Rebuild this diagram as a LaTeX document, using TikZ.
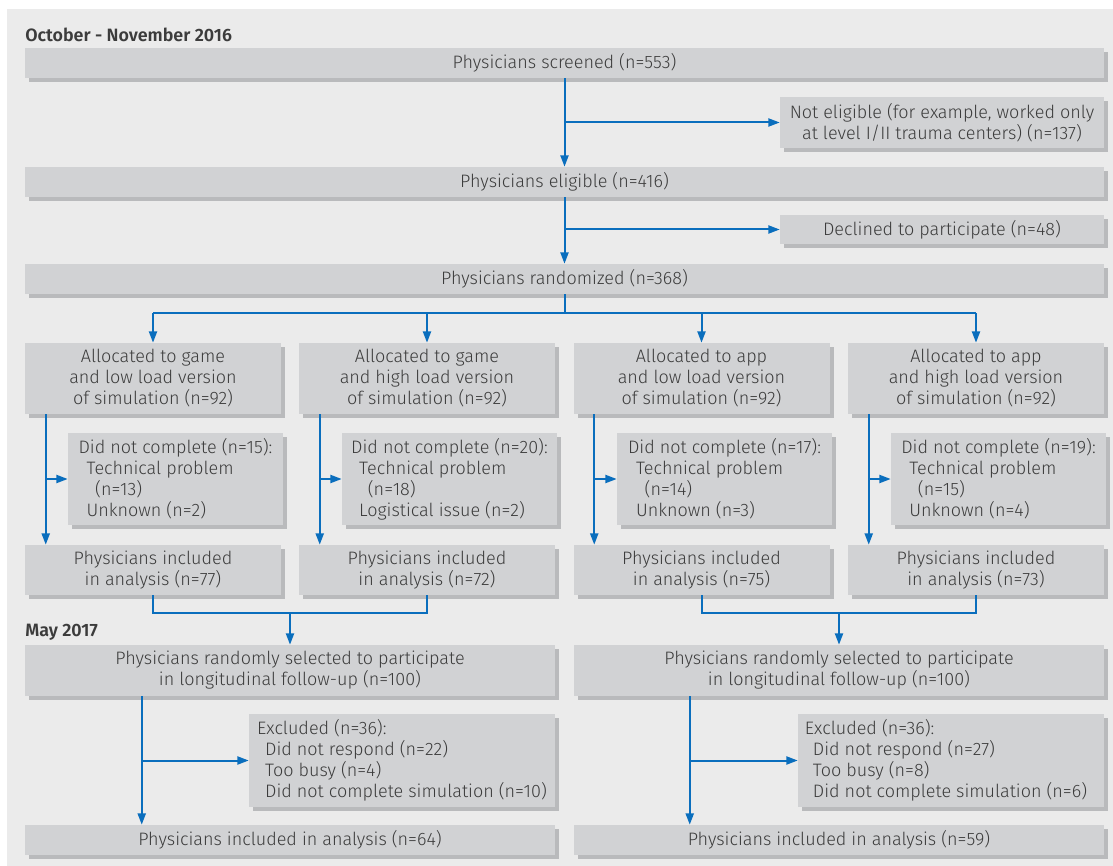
\documentclass[tikz,border=0pt]{standalone}
\usepackage{fontspec}
\setmainfont{Fira Sans}[UprightFont=* Light, BoldFont=* SemiBold]
\usepackage{tikz}
\usetikzlibrary{arrows.meta,shadows}
\definecolor{panel}{HTML}{EBEBEB}
\definecolor{boxgray}{HTML}{D1D2D4}
\definecolor{shadegray}{HTML}{B9BABC}
\definecolor{flow}{HTML}{0A6EBD}
\definecolor{ink}{HTML}{3C3C3C}

\begin{document}
\begin{tikzpicture}[x=0.75pt,y=-0.75pt,
  box/.style={fill=boxgray,text=ink,inner sep=0pt,align=center,
    font=\fontsize{13.5}{15.75}\selectfont,
    copy shadow={shadow xshift=3pt,shadow yshift=-3pt,fill=shadegray,draw=none}},
  wide/.style={box,minimum width=809.25pt,minimum height=22.5pt},
  arm/.style={box,minimum width=192pt,minimum height=53.25pt},
  incl/.style={box,minimum width=192pt,minimum height=37.5pt},
  half/.style={box,minimum width=397.5pt},
  side/.style={box,align=left,minimum width=161.25pt,minimum height=69pt},
  title/.style={anchor=west,inner sep=0pt,text=ink,font=\bfseries\fontsize{13.4}{15}\selectfont},
  link/.style={draw=flow,line width=1.5pt},
  arr/.style={link,-{Triangle[length=8.5pt,width=6pt]}}]
\fill[white] (0,0) rectangle (1113,866);
\fill[panel] (7,9) rectangle (1113,866);
\useasboundingbox (0,0) rectangle (1113,866);

\node[title] (oct) at (25,35) {October - November 2016};
\node[wide] (screened) at (564.5,63) {Physicians screened (n=553)};
\node[box,minimum width=243pt,minimum height=38.25pt] (noteligible) at (942,122.5)
  {Not eligible (for example, worked only\\at level I/II trauma centers) (n=137)};
\node[wide] (eligible) at (564.5,182) {Physicians eligible (n=416)};
\node[box,minimum width=243pt,minimum height=22pt] (declined) at (942,229.5) {Declined to participate (n=48)};
\node[wide] (randomized) at (564.5,279) {Physicians randomized (n=368)};

\node[arm] (a1) at (153,378.5) {Allocated to game\\and low load version\\of simulation (n=92)};
\node[arm] (a2) at (427,378.5) {Allocated to game\\and high load version\\of simulation (n=92)};
\node[arm] (a3) at (701.5,378.5) {Allocated to app\\and low load version\\of simulation (n=92)};
\node[arm] (a4) at (976,378.5) {Allocated to app\\and high load version\\of simulation (n=92)};

\node[side] (d1) at (175.5,479) {Did not complete (n=15):\\\hspace*{6pt}Technical problem\\\hspace*{12.5pt}(n=13)\\\hspace*{6pt}Unknown (n=2)};
\node[side] (d2) at (449.5,479) {Did not complete (n=20):\\\hspace*{6pt}Technical problem\\\hspace*{12.5pt}(n=18)\\\hspace*{6pt}Logistical issue (n=2)};
\node[side] (d3) at (724.5,479) {Did not complete (n=17):\\\hspace*{6pt}Technical problem\\\hspace*{12.5pt}(n=14)\\\hspace*{6pt}Unknown (n=3)};
\node[side] (d4) at (998.5,479) {Did not complete (n=19):\\\hspace*{6pt}Technical problem\\\hspace*{12.5pt}(n=15)\\\hspace*{6pt}Unknown (n=4)};

\node[incl] (i1) at (153,570) {Physicians included\\in analysis (n=77)};
\node[incl] (i2) at (427,570) {Physicians included\\in analysis (n=72)};
\node[incl] (i3) at (701.5,570) {Physicians included\\in analysis (n=75)};
\node[incl] (i4) at (976,570) {Physicians included\\in analysis (n=73)};

\node[title] (may) at (25,632) {May 2017};
\node[half,minimum height=38.25pt] (s1) at (290,670.5) {Physicians randomly selected to participate\\in longitudinal follow-up (n=100)};
\node[half,minimum height=38.25pt] (s2) at (839,670.5) {Physicians randomly selected to participate\\in longitudinal follow-up (n=100)};
\node[side,minimum width=229.5pt,minimum height=69.75pt] (e1) at (402,760.5) {Excluded (n=36):\\\hspace*{6pt}Did not respond (n=22)\\\hspace*{6pt}Too busy (n=4)\\\hspace*{6pt}Did not complete simulation (n=10)};
\node[side,minimum width=229.5pt,minimum height=69.75pt] (e2) at (951,760.5) {Excluded (n=36):\\\hspace*{6pt}Did not respond (n=27)\\\hspace*{6pt}Too busy (n=8)\\\hspace*{6pt}Did not complete simulation (n=6)\hphantom{0}};
\node[half,minimum height=22.5pt] (f1) at (290,840) {Physicians included in analysis (n=64)};
\node[half,minimum height=22.5pt] (f2) at (839,840) {Physicians included in analysis (n=59)};

\path
(screened) edge[arr] (eligible)
(eligible) edge[arr] (randomized)
(noteligible.west -| screened.south) edge[arr] (noteligible.west)
(declined.west -| eligible.south) edge[arr] (declined.west);

\coordinate (split) at ([yshift=-14.25pt]randomized.south);
\draw[link] (randomized) -- (split);
\draw[link] (a1.north |- split) -- (a4.north |- split);
\foreach \n in {1,2,3,4} {
  \draw[arr] (a\n.north |- split) -- (a\n);
  \coordinate (c\n) at ([xshift=15.75pt]a\n.south west);
  \draw[arr] (c\n) -- (c\n |- i\n.north);
  \draw[arr] (c\n |- d\n.west) -- (d\n.west);
}

\coordinate (join1) at ([yshift=-13.5pt]i1.south -| s1.north);
\coordinate (join2) at ([yshift=-13.5pt]i3.south -| s2.north);
\draw[link] (i1.south) |- (join1) -| (i2.south);
\draw[link] (i3.south) |- (join2) -| (i4.south);
\draw[arr] (join1) -- (s1);
\draw[arr] (join2) -- (s2);

\coordinate (c5) at ([xshift=87.75pt]s1.south west);
\coordinate (c6) at ([xshift=87pt]s2.south west);
\draw[arr] (c5) -- (c5 |- f1.north);
\draw[arr] (c5 |- e1.west) -- (e1.west);
\draw[arr] (c6) -- (c6 |- f2.north);
\draw[arr] (c6 |- e2.west) -- (e2.west);
\end{tikzpicture}
\end{document}
